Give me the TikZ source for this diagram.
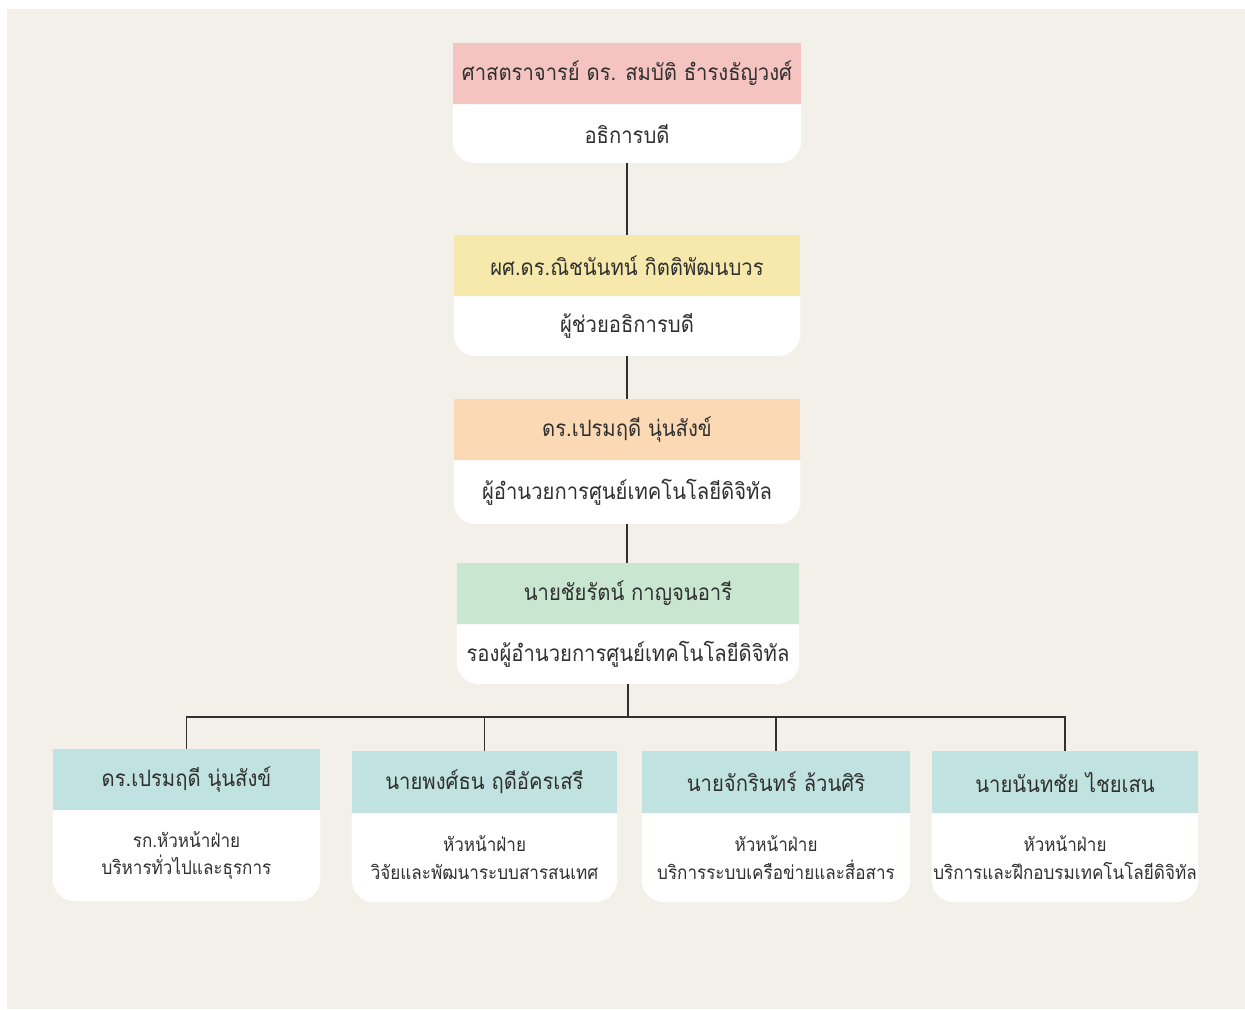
\documentclass[tikz,border=0pt]{standalone}
\usepackage{fontspec}
\newfontfamily\thai[Script=Thai,FakeStretch=0.9]{Loma}
\usetikzlibrary{positioning,backgrounds}
\definecolor{bgcream}{RGB}{243,239,233}
\definecolor{txtgray}{RGB}{48,48,48}
\definecolor{hdpink}{RGB}{245,196,193}
\definecolor{hdyellow}{RGB}{247,233,172}
\definecolor{hdorange}{RGB}{250,217,180}
\definecolor{hdgreen}{RGB}{200,230,208}
\definecolor{hdteal}{RGB}{192,226,224}
\tikzset{head/.style={rectangle,inner sep=0pt,text=txtgray,font=\thai\fontsize{12.8}{15}\selectfont}}
\tikzset{post/.style={rectangle,inner sep=0pt,text=txtgray,align=center,font=\thai\fontsize{12.8}{15}\selectfont}}
\tikzset{unit/.style={post,font=\thai\fontsize{10.8}{15.5}\selectfont}}
\tikzset{link/.style={draw=txtgray,line width=1pt}}

\begin{document}
\begin{tikzpicture}[x=0.02cm,y=0.02cm]
\useasboundingbox (0,0) rectangle (1245,-1009);
% top chain
\node (rector) at (627,-73.5) [head,fill=hdpink,minimum width=6.96cm,minimum height=1.22cm] {ศาสตราจารย์ ดร. สมบัติ ธำรงธัญวงศ์};
\node (rectorpos) [post,below=0pt of rector,minimum width=6.96cm,minimum height=1.16cm] {อธิการบดี};
\node (asst) at (627,-265.5) [head,fill=hdyellow,minimum width=6.92cm,minimum height=1.22cm] {ผศ.ดร.ณิชนันทน์ กิตติพัฒนบวร};
\node (asstpos) [post,below=0pt of asst,minimum width=6.92cm,minimum height=1.18cm] {ผู้ช่วยอธิการบดี};
\node (dir) at (627,-429.5) [head,fill=hdorange,minimum width=6.92cm,minimum height=1.22cm] {ดร.เปรมฤดี นุ่นสังข์};
\node (dirpos) [post,below=0pt of dir,minimum width=6.92cm,minimum height=1.26cm] {ผู้อำนวยการศูนย์เทคโนโลยีดิจิทัล};
\node (dep) at (628,-593.5) [head,fill=hdgreen,minimum width=6.84cm,minimum height=1.22cm] {นายชัยรัตน์ กาญจนอารี};
\node (deppos) [post,below=0pt of dep,minimum width=6.84cm,minimum height=1.18cm] {รองผู้อำนวยการศูนย์เทคโนโลยีดิจิทัล};
% division heads
\node (hdA) at (186.5,-779.5) [head,fill=hdteal,minimum width=5.34cm,minimum height=1.22cm] {ดร.เปรมฤดี นุ่นสังข์};
\node (hdApos) [unit,below=0pt of hdA,minimum width=5.34cm,minimum height=1.8cm] {รก.หัวหน้าฝ่าย\\บริหารทั่วไปและธุรการ};
\node (hdB) at (484.5,-782) [head,fill=hdteal,minimum width=5.3cm,minimum height=1.24cm] {นายพงศ์ธน ฤดีอัครเสรี};
\node (hdBpos) [unit,below=0pt of hdB,minimum width=5.3cm,minimum height=1.76cm] {หัวหน้าฝ่าย\\วิจัยและพัฒนาระบบสารสนเทศ};
\node (hdC) at (776,-782) [head,fill=hdteal,minimum width=5.36cm,minimum height=1.24cm] {นายจักรินทร์ ล้วนศิริ};
\node (hdCpos) [unit,below=0pt of hdC,minimum width=5.36cm,minimum height=1.76cm] {หัวหน้าฝ่าย\\บริการระบบเครือข่ายและสื่อสาร};
\node (hdD) at (1065,-782) [head,fill=hdteal,minimum width=5.32cm,minimum height=1.24cm] {นายนันทชัย ไชยเสน};
\node (hdDpos) [unit,below=0pt of hdD,minimum width=5.32cm,minimum height=1.76cm] {หัวหน้าฝ่าย\\บริการและฝึกอบรมเทคโนโลยีดิจิทัล};
% page and white card bodies behind the text
\begin{scope}[on background layer]
\fill[white] (0,0) rectangle (1245,-1009);
\fill[bgcream] (7,-9) rectangle (1245,-1009);
\foreach \p in {rectorpos,asstpos,dirpos,deppos,hdApos,hdBpos,hdCpos,hdDpos}
  \fill[white] (\p.north west) -- (\p.west) [rounded corners=0.44cm] |- (\p.south) -| (\p.east) [sharp corners] -- (\p.north east) -- cycle;
\end{scope}
% connectors
\coordinate (bus) at (632,-717);
\draw[link] (rectorpos.south) -- (asst.north);
\draw[link] (asstpos.south) -- (dir.north);
\draw[link] (dirpos.south) -- (dirpos.south |- dep.north);
\draw[link] (deppos.south) -- (deppos.south |- bus);
\draw[link] (hdA.north) -- (hdA.north |- bus) -- (hdD.north |- bus) -- (hdD.north);
\draw[link] (hdB.north) -- (hdB.north |- bus);
\draw[link] (hdC.north) -- (hdC.north |- bus);
\end{tikzpicture}
\end{document}
